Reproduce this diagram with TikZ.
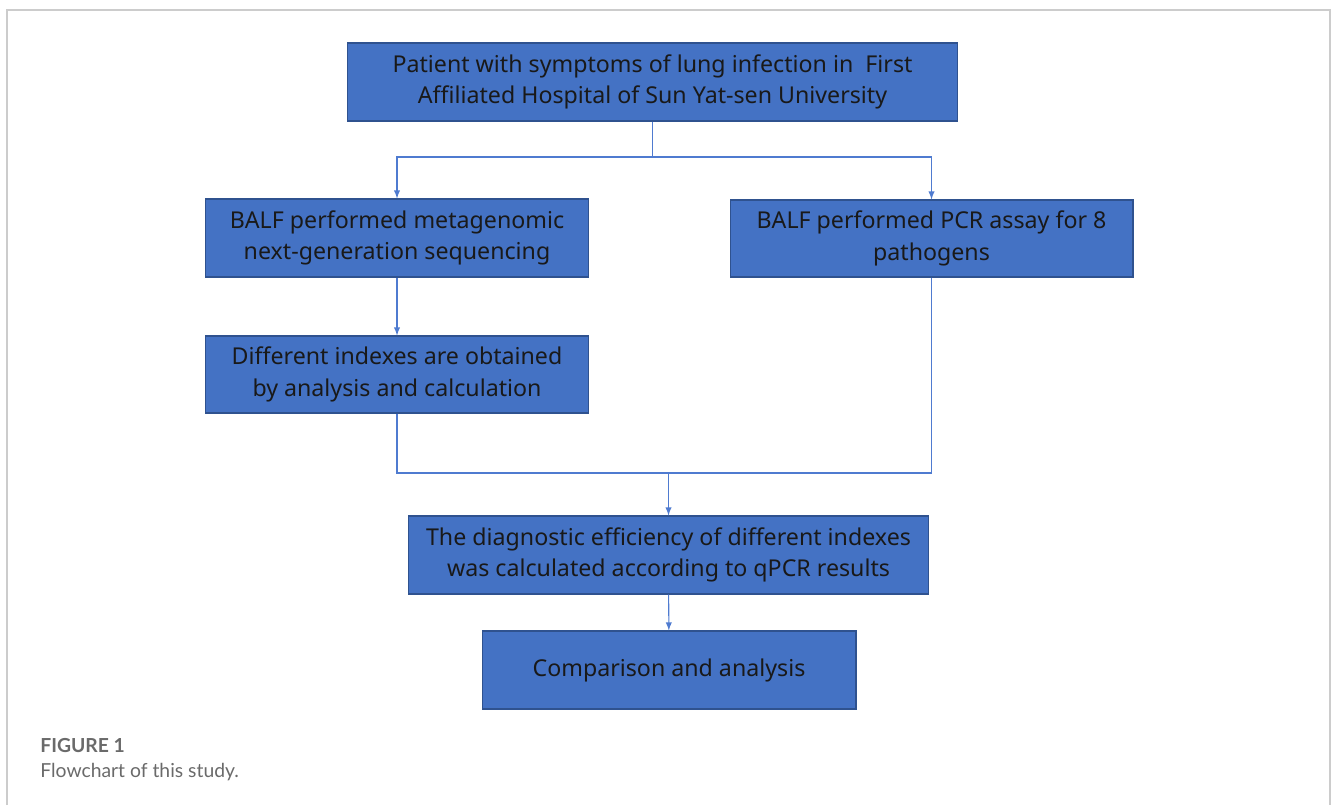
\documentclass[tikz,border=0pt]{standalone}
\usepackage{fontspec}
\setmainfont{Noto Sans}
\newfontfamily\capfont{Lato}
\usepackage{tikz}
\usetikzlibrary{arrows, positioning, calc}

\definecolor{boxblue}{HTML}{4472C4}
\definecolor{boxedge}{HTML}{2F528F}
\definecolor{linkblue}{HTML}{4F7BD0}
\definecolor{framegray}{HTML}{CCCCCC}
\definecolor{capgray}{HTML}{6A6A6A}

\begin{document}
\begin{tikzpicture}[x=0.02cm, y=-0.02cm,
    stage/.style={draw=boxedge, fill=boxblue, line width=0.6pt, inner sep=0pt,
        align=center, font=\fontsize{13.2}{18}\selectfont, text=black!90},
    link/.style={draw=linkblue, line width=0.6pt},
    flow/.style={link, -latex}]
\useasboundingbox (0,0) rectangle (1334,805);
% frame
\draw[framegray, line width=0.7pt] (7,805) -- (7,10) -- (1330,10) -- (1330,805);

% boxes
\node[stage, minimum width=12.22cm, minimum height=1.56cm] (patient) at (652.5,82)
    {Patient with symptoms of lung infection in\ \ First\\Affiliated Hospital of Sun Yat-sen University};
\node[stage, minimum width=7.68cm, minimum height=1.56cm] (mngs) at (397,238)
    {BALF performed metagenomic\\next-generation sequencing};
\node[stage, minimum width=8.06cm, minimum height=1.54cm] (pcr) at (931.5,238.5)
    {BALF performed PCR assay for 8\\pathogens};
\node[stage, minimum width=7.68cm, minimum height=1.54cm] (index) at (397,374.5)
    {Different indexes are obtained\\by analysis and calculation};
\node[stage, minimum width=10.42cm, minimum height=1.56cm] (diag) at (668.5,555)
    {The diagnostic efficiency of different indexes\\was calculated according to qPCR results};
\node[stage, minimum width=7.48cm, minimum height=1.56cm] (comp) at (669,670)
    {Comparison and analysis};

% split
\coordinate (split) at (patient.south |- 0,157);
\draw[link] (patient.south) -- (split);
\draw[flow] (split) -| (mngs.north);
\draw[flow] (split) -| (pcr.north);
\draw[flow] (mngs) -- (index);

% join
\coordinate (join) at (diag.north |- 0,473);
\draw[link] (index.south) |- (join);
\draw[link] (pcr.south) |- (join);
\draw[flow] (join) -- (diag.north);
\draw[flow] (diag) -- (comp);

% caption
\node[anchor=base west, inner sep=0pt, text=capgray, font=\capfont\bfseries\fontsize{11}{13}\selectfont] (figno) at (40,752) {FIGURE 1};
\node[anchor=base west, inner sep=0pt, text=capgray, font=\capfont\fontsize{11}{13}\selectfont] (figcap) at (40,777) {Flowchart of this study.};
\end{tikzpicture}
\end{document}
